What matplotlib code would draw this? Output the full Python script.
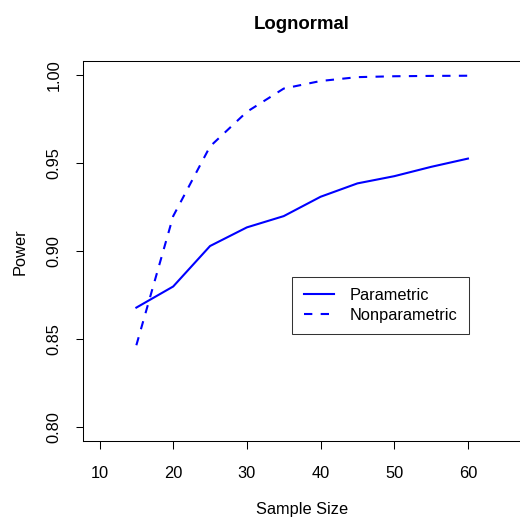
import matplotlib
matplotlib.use("Agg")
import matplotlib.pyplot as plt

plt.rcParams['font.family'] = ['Liberation Sans', 'DejaVu Sans']

sample_size = [15, 20, 25, 30, 35, 40, 45, 50, 55, 60]
parametric = [0.868, 0.880, 0.903, 0.9136, 0.920, 0.931, 0.9386, 0.9427, 0.948, 0.9527]
nonparametric = [0.8466, 0.920, 0.9596, 0.9793, 0.9925, 0.9968, 0.999, 0.9995, 0.9997, 0.9998]
x_ticks = [10, 20, 30, 40, 50, 60]
y_ticks = [0.80, 0.85, 0.90, 0.95, 1.00]
y_tick_labels = ["0.80", "0.85", "0.90", "0.95", "1.00"]

W = H = 520
fig = plt.figure(figsize=(5.2, 5.2), dpi=100)
left, right, top, bottom = 83.3, 521.0, 61.3, 441.3
aw, ah = right - left, bottom - top
ax = fig.add_axes([left / W, 1 - bottom / H, aw / W, ah / H])

fs = 11.8
blue = '#0000FF'
ax.plot(sample_size, parametric, color=blue, lw=1.5, label='Parametric')
ax.plot(sample_size, nonparametric, color=blue, lw=1.5, dashes=(4, 4), label='Nonparametric')

ax.set_xlim(7.8, 67.2)
ax.set_ylim(0.792, 1.008)
ax.set_xticks(x_ticks)
ax.set_xticklabels([str(v) for v in x_ticks], fontsize=fs)
ax.set_yticks(y_ticks)
ax.set_yticklabels(y_tick_labels, fontsize=fs, rotation=90, va='center')
ax.tick_params(direction='out', length=5.4, width=0.75, colors='black')
ax.tick_params(axis='x', pad=12.5)
ax.tick_params(axis='y', pad=10.1)
for s in ax.spines.values():
    s.set_linewidth(0.75)

ax.set_xlabel('Sample Size', fontsize=fs, va='baseline')
ax.xaxis.set_label_coords(0.5, -(514.3 - bottom) / ah)
ax.set_ylabel('Power', fontsize=fs, rotation=90, rotation_mode='anchor',
              ha='center', va='baseline')
ax.yaxis.set_label_coords((24.7 - left) / aw, 0.5)
ax.set_title('Lognormal', fontsize=13.4, fontweight='bold', va='baseline',
             y=1 + (top - 29) / ah, pad=0)

leg = ax.legend(loc='upper left', bbox_to_anchor=(292.3 / W, 1 - 276.7 / H),
                bbox_transform=fig.transFigure, borderaxespad=0,
                fontsize=fs, frameon=True, fancybox=False, edgecolor='black',
                handlelength=1.87, handletextpad=0.91, labelspacing=0.28,
                borderpad=0.7)
leg.get_frame().set_linewidth(0.75)

fig.savefig('out.png', dpi=100)
